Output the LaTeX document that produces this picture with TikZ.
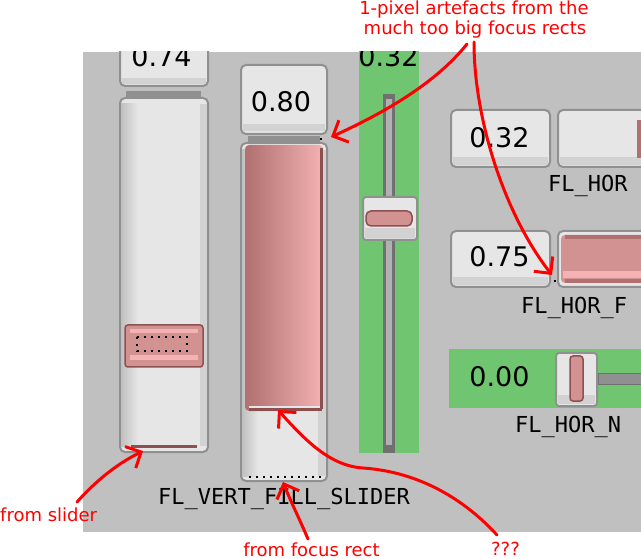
\documentclass[tikz,border=0pt]{standalone}
\usepackage{fontspec}
\setmainfont{DejaVu Sans}
\newfontfamily\widgetmono{DejaVu Sans Mono}
\usetikzlibrary{arrows.meta}
\newcommand{\readoutfont}{\fontsize{27}{32}\selectfont}
\newcommand{\widgetfont}{\widgetmono\fontsize{22}{26}\selectfont}
\newcommand{\remarkfont}{\fontsize{18}{20}\selectfont}
\definecolor{panel}{RGB}{192,192,192}
\definecolor{edge}{RGB}{144,144,144}
\definecolor{face}{RGB}{230,230,230}
\definecolor{bevel}{RGB}{210,210,210}
\definecolor{rose}{RGB}{210,146,146}
\definecolor{roselight}{RGB}{244,178,178}
\definecolor{rosemid}{RGB}{176,112,112}
\definecolor{rosedark}{RGB}{140,80,80}
\definecolor{leaf}{RGB}{112,198,112}
\definecolor{rodgray}{RGB}{112,112,112}
\definecolor{marker}{RGB}{255,0,0}
\tikzstyle{facebox}=[
      rounded corners = 5pt,
      line width = 2pt,
      draw = edge,
      fill = face
      ]
\tikzstyle{knob}=[
      rounded corners = 3pt,
      line width = 1.5pt,
      draw = rosedark,
      fill = rose
      ]
\tikzstyle{focusdots}=[
      line width = 2pt,
      dash pattern = on 2pt off 5pt,
      black
      ]
\tikzstyle{readout}=[
      inner sep = 0pt,
      anchor = base,
      font = \readoutfont
      ]
\tikzstyle{widgetname}=[
      inner sep = 0pt,
      anchor = base west,
      font = \widgetfont
      ]
\tikzstyle{remark}=[
      inner sep = 0pt,
      anchor = base,
      text = marker,
      font = \remarkfont
      ]
\tikzstyle{pen}=[
      draw = marker,
      line width = 3pt,
      line cap = round,
      line join = round,
      -{Straight Barb[length=12pt,width=24pt]}
      ]

\begin{document}
\begin{tikzpicture}[x=1pt,y=-1pt]
\useasboundingbox (0,0) rectangle (641,559);
\fill[white] (0,0) rectangle (641,559);
\fill[panel] (83,52) rectangle (641,532);

\begin{scope}
\clip (83,52) rectangle (641,532);
% vertical slider
\draw[facebox] (120,36) rectangle (208,86);
\fill[bevel] (122,78) rectangle (206,84);
\node[readout] (val74) at (161.5,67) {0.74};
\fill[edge] (126,91) rectangle (201,97);
\draw[facebox] (120,98) rectangle (208,452);
\shade[left color=panel, right color=face] (121,104) rectangle (138,446);
\fill[bevel] (200,104) rectangle (207,446);
\fill[rosedark] (131,445) rectangle (197,448);
\draw[knob] (125,325) rectangle (203,367);
\fill[roselight] (130,329) rectangle (198,333);
\fill[roselight] (130,355) rectangle (198,360);
\draw[focusdots] (137,337) rectangle (187,351);

% vertical fill slider
\draw[facebox] (241,65) rectangle (327,134);
\fill[bevel] (243,124) rectangle (325,131);
\node[readout] (val80) at (281,112) {0.80};
\fill[edge] (248,136) rectangle (320,142);
\draw[facebox] (241,143) rectangle (327,481);
\shade[left color=panel, right color=face] (242,150) rectangle (258,476);
\fill[bevel] (318,150) rectangle (326,476);
\shade[rounded corners=4pt, left color=rosemid, middle color=rose, right color=roselight] (245,145) rectangle (323,411);
\fill[rosedark] (320,148) rectangle (323,409);
\fill[rosedark] (249,408) rectangle (322,411);
\fill[face] (249,406) rectangle (320,408);
\draw[focusdots] (249,477) -- (321,477);

% vertical nice slider
\fill[leaf] (359,36) rectangle (419,453);
\node[readout] (val32v) at (388.5,67) {0.32};
\fill[rodgray] (383,94) rectangle (395,453);
\fill[edge!70!white] (386,99) rectangle (392,445);
\draw[facebox, rounded corners=3pt] (363,197) rectangle (417,240);
\fill[bevel] (365,228) rectangle (415,238);
\draw[knob, rounded corners=5pt] (366,211) rectangle (412,226);

% horizontal sliders
\draw[facebox] (451,110) rectangle (550,167);
\fill[bevel] (453,157) rectangle (548,165);
\node[readout] (val32h) at (499.5,148) {0.32};
\draw[facebox] (558,110) rectangle (660,167);
\fill[bevel] (560,157) rectangle (660,165);
\fill[rosemid] (637,120) rectangle (645,158);

\draw[facebox] (451,231) rectangle (550,287);
\fill[bevel] (453,277) rectangle (548,285);
\node[readout] (val75) at (499.5,267) {0.75};
\draw[facebox] (558,231) rectangle (660,287);
\fill[rose, rounded corners=4pt] (561,235) rectangle (660,283);
\fill[rosemid] (565,235) rectangle (660,239);
\fill[roselight] (563,271) rectangle (660,278);
\fill[rosemid] (565,279) rectangle (660,283);

\fill[leaf] (449,349) rectangle (660,408);
\node[readout] (val00) at (499.5,387) {0.00};
\draw[rodgray, fill=edge, line width=1pt] (598,373) rectangle (660,384);
\draw[facebox, rounded corners=3pt] (556,353) rectangle (597,406);
\fill[bevel] (558,395) rectangle (595,404);
\draw[knob] (570,356) rectangle (583,401);

% stray pixels
\fill[black] (320,138) rectangle (322,140);
\fill[black] (554,280) rectangle (556,282);
\end{scope}

\node[widgetname] (nameVfill) at (158,504) {FL\_VERT\_FILL\_SLIDER};
\node[widgetname] (nameHor) at (548,192) {FL\_HOR};
\node[widgetname] (nameHorFill) at (521,313) {FL\_HOR\_F};
\node[widgetname] (nameHorNice) at (515,432) {FL\_HOR\_N};

\node[remark] (noteTopA) at (474,15) {1-pixel artefacts from the};
\node[remark] (noteTopB) at (475,35) {much too big focus rects};
\node[remark, anchor=base west] (noteSlider) at (0,521) {from slider};
\node[remark] (noteFocus) at (311.5,556) {from focus rect};
\node[remark] (noteWhat) at (505.5,555) {???};

\coordinate (startTopA) at (467,44);
\coordinate (startTopB) at (474,42);
\coordinate (startSlider) at (77,502);
\coordinate (startFocus) at (308,539);
\coordinate (startWhat) at (497,535);
\coordinate (pixelV) at (331,137);
\coordinate (pixelH) at (552,275);
\coordinate (sliderEdge) at (143,451);
\coordinate (focusEdge) at (283,482);
\coordinate (fillEdge) at (278,410);

\draw[pen] (startTopA) .. controls (440,78) and (395,108) .. (pixelV);
\draw[pen] (startTopB) .. controls (474,120) and (505,215) .. (pixelH);
\draw[pen] (startSlider) .. controls (95,482) and (115,465) .. (sliderEdge);
\draw[pen] (startFocus) .. controls (300,520) and (290,500) .. (focusEdge);
\draw[pen] (startWhat) .. controls (465,500) and (420,472) .. (363,468)
      .. controls (330,466) and (305,440) .. (fillEdge);
\end{tikzpicture}
\end{document}
